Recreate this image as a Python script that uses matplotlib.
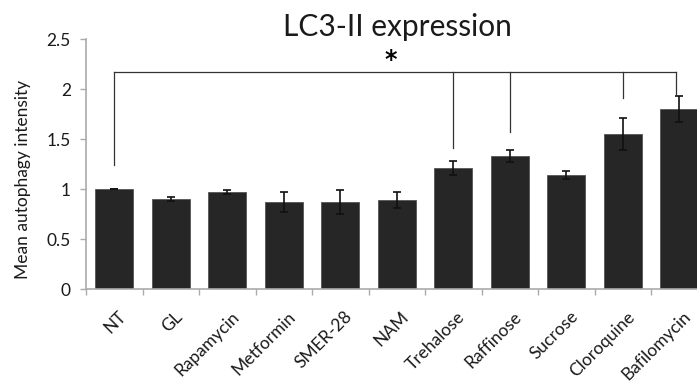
import matplotlib
matplotlib.use("Agg")
import matplotlib.pyplot as plt
import numpy as np

plt.rcParams['font.family'] = ['Lato', 'DejaVu Sans']

categories = ["NT", "GL", "Rapamycin", "Metformin", "SMER-28", "NAM",
              "Trehalose", "Raffinose", "Sucrose", "Cloroquine", "Bafilomycin"]
values = [1.00, 0.90, 0.97, 0.87, 0.87, 0.89, 1.21, 1.33, 1.14, 1.55, 1.80]
errors = [0.0, 0.02, 0.02, 0.10, 0.12, 0.08, 0.07, 0.06, 0.04, 0.16, 0.13]

# significance bracket: which bars, and where each drop line ends
bracket_idx = [0, 6, 7, 9, 10]
bracket_low = [1.24, 1.41, 1.57, 1.91, 1.94]
bracket_top = 2.17

fig = plt.figure(figsize=(6.97, 3.83), dpi=100)
ax = fig.add_axes([0.1234, 0.2454, 0.8917, 0.6527])

x = np.arange(len(categories))
ax.bar(x, values, width=0.68, color='#262626', edgecolor='#555555', linewidth=0.6, zorder=2)
ax.errorbar(x, values, yerr=errors, fmt='none', ecolor='#111111', elinewidth=1.2,
            capsize=3, capthick=1.2, zorder=3)

ax.set_xlim(-0.5, len(categories) - 0.5)
ax.set_ylim(0, 2.5)
ax.set_yticks([0, 0.5, 1, 1.5, 2, 2.5])
ax.set_yticklabels(["0", "0.5", "1", "1.5", "2", "2.5"], fontsize=12.5, color='#1a1a1a')

ax.set_xticks(x + 0.06)
ax.set_xticklabels(categories, rotation=45, ha='right', rotation_mode='anchor',
                   fontsize=12.5, color='#1a1a1a')
ax.tick_params(axis='x', which='major', length=0, pad=14)
ax.set_xticks(np.arange(len(categories) + 1) - 0.5, minor=True)
ax.tick_params(axis='x', which='minor', length=4, color='#aaaaaa', width=1)
ax.tick_params(axis='y', length=4, color='#aaaaaa', width=1, pad=7)

for s in ['top', 'right']:
    ax.spines[s].set_visible(False)
for s in ['left', 'bottom']:
    ax.spines[s].set_color('#aaaaaa')
    ax.spines[s].set_linewidth(1.2)

ax.set_ylabel("Mean autophagy intensity", fontsize=12.5, color='#1a1a1a')
ax.yaxis.set_label_coords(-0.088, 0.44)

# bracket
xb = [x[i] for i in bracket_idx]
xb[-1] -= 0.05
ax.plot([xb[0], xb[-1]], [bracket_top, bracket_top], color='#333333', lw=0.9, zorder=4)
for xi, lo in zip(xb, bracket_low):
    ax.plot([xi, xi], [lo, bracket_top], color='#333333', lw=0.9, zorder=4)
ax.text(4.9, 2.29, "*", ha='center', va='center', fontsize=17, fontweight='bold',
        family='DejaVu Sans')

fig.text(0.57, 0.93, "LC3-II expression", ha='center', va='center', fontsize=21.5, color='#1a1a1a')

fig.savefig("out.png", dpi=100)
